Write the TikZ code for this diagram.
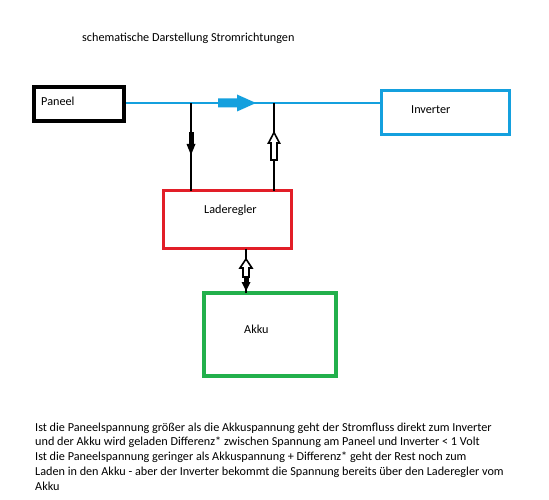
\documentclass[tikz,border=0pt]{standalone}
\usepackage{fontspec}
\setmainfont{Carlito}
\definecolor{pblue}{RGB}{20,160,222}
\definecolor{pred}{RGB}{226,30,40}
\definecolor{pgreen}{RGB}{34,176,76}
\tikzset{
  box/.style={draw, rectangle, inner sep=0pt, outer sep=0pt},
  txt/.style={anchor=base west, inner sep=0pt, font=\fontsize{12.2}{14.6}\selectfont},
  blueline/.style={draw=pblue, line width=2.2pt},
  wire/.style={draw=black, line width=2pt},
  hollow/.style={fill=white, draw=black, line width=1.6pt, line join=miter},
}
\begin{document}
\begin{tikzpicture}[x=1pt,y=-1pt]
\useasboundingbox (0,0) rectangle (549,500);
\fill[white] (0,0) rectangle (549,500);

% title
\node[txt] (title) at (82,41.5) {schematische Darstellung Stromrichtungen};

% boxes
\node[box, line width=4pt, minimum width=90pt, minimum height=34pt] (paneel) at (79,104) {};
\node[box, draw=pblue, line width=3.2pt, minimum width=128pt, minimum height=44pt] (inverter) at (445.5,112.5) {};
\node[box, draw=pred, line width=3.2pt, minimum width=128pt, minimum height=58pt] (lr) at (227.5,219.5) {};
\node[box, draw=pgreen, line width=3.6pt, minimum width=132pt, minimum height=83pt] (akku) at (270,334.5) {};

% box labels
\node[txt] (tp) at (41,106) {Paneel};
\node[txt] (ti) at (411,114) {Inverter};
\node[txt] (tl) at (204,213) {Laderegler};
\node[txt] (ta) at (244,333) {Akku};

% main blue line
\coordinate (lev) at (0,103);
\coordinate (j1) at (191,103);
\coordinate (j2) at (274,103);
\draw[blueline] (paneel.east |- lev) ++(2,0) -- (inverter.west |- lev);
% big blue arrow
\fill[pblue] (218,98.5) -- (237,98.5) -- (237,94.5) -- (256,103) -- (237,111.5) -- (237,107.5) -- (218,107.5) -- cycle;

% vertical wires to Laderegler
\draw[wire] (j1) -- (j1 |- lr.north);
\draw[wire] (j2) -- (j2 |- lr.north);
% filled down arrow on left wire
\fill (188.5,132) rectangle (193.5,144);
\fill (186.5,144) -- (195.5,144) -- (191,155) -- cycle;
% hollow up arrow on right wire
\draw[hollow] (274,132.5) -- (279.5,143) -- (277,143) -- (277,160) -- (271,160) -- (271,143) -- (268.5,143) -- cycle;

% Laderegler <-> Akku
\coordinate (j3) at (246,0);
\draw[wire] (j3 |- lr.south) -- (j3 |- akku.north);
\draw[hollow] (246,259) -- (252,268) -- (249,268) -- (249,277) -- (243,277) -- (243,268) -- (240,268) -- cycle;
\fill (243.5,277) rectangle (248.5,283);
\fill (241.5,282) -- (250.5,282) -- (246,291) -- cycle;

% explanation text
\node[txt] (l1) at (35,431) {Ist die Paneelspannung größer als die Akkuspannung geht der Stromfluss direkt zum Inverter};
\node[txt] (l2) at (35,445.8) {und der Akku wird geladen Differenz* zwischen Spannung am Paneel und Inverter < 1 Volt};
\node[txt] (l3) at (35,460.6) {Ist die Paneelspannung geringer als Akkuspannung + Differenz* geht der Rest noch zum};
\node[txt] (l4) at (35,475.4) {Laden in den Akku - aber der Inverter bekommt die Spannung bereits über den Laderegler vom};
\node[txt] (l5) at (35,490.2) {Akku};
\end{tikzpicture}
\end{document}
